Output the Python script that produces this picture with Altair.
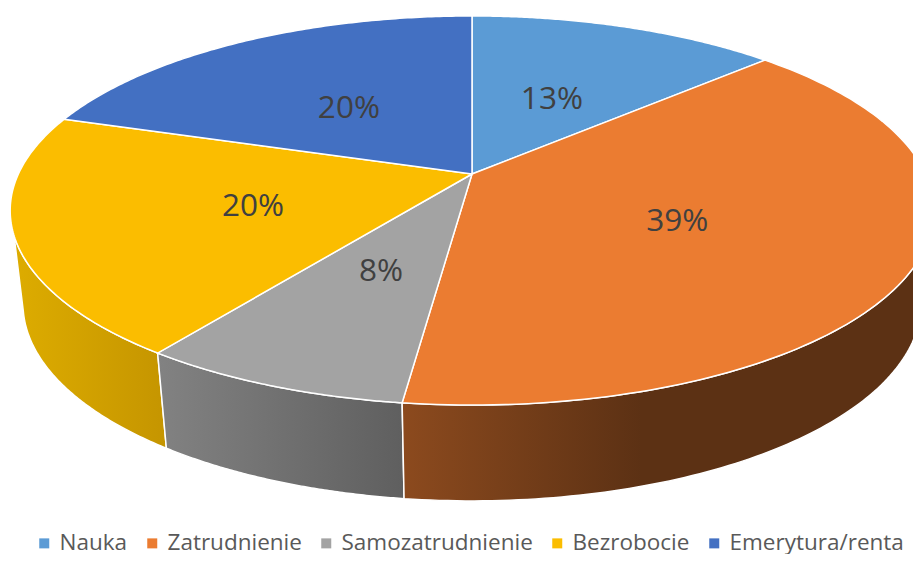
import numpy as np
import pandas as pd
import altair as alt

categories = ["Nauka", "Zatrudnienie", "Samozatrudnienie", "Bezrobocie", "Emerytura/renta"]
shares = [13, 39, 8, 20, 20]
colors = ["#5B9BD5", "#EB7C31", "#A3A3A3", "#FBBD00", "#4370C2"]
labels = ["13%", "39%", "8%", "20%", "20%"]

# perspective of the disc: tilt, centre and radii on the page (px)
K = 0.1877
TOP = dict(cx=472.0, cy=174.0, rx=453.6, ry=187.7)
LOW = dict(cx=472.0, cy=267.0, rx=441.0, ry=190.0)


def project(theta_deg, r=1.0, p=TOP):
    t = np.radians(theta_deg)
    X, Y = r * np.sin(t), r * np.cos(t)
    d = 1 + K * Y
    return p["cx"] + p["rx"] * X / d, p["cy"] - p["ry"] * Y / d


cum = np.concatenate([[0], np.cumsum(shares)]) * 3.6

# top faces
rows = []
for i, c in enumerate(categories):
    a = np.linspace(cum[i], cum[i + 1], 120)
    pts = [project(0.0, 0.0)] + [project(v) for v in a] + [project(0.0, 0.0)]
    for j, (x, y) in enumerate(pts):
        rows.append(dict(name=c, o=j, x=x, y=y))
top = pd.DataFrame(rows)


def wall(a0, a1, b1):
    """side wall between rim angles a0..a1 above and a0..b1 below"""
    up = [project(v) for v in np.linspace(a0, a1, 100)]
    lo = [project(v, 1.0, LOW) for v in np.linspace(b1, a0, 100)]
    pts = up + lo + up[:1]
    return pd.DataFrame([dict(o=j, x=x, y=y) for j, (x, y) in enumerate(pts)])


def grad(*stops):
    return alt.Gradient(
        gradient="linear", x1=0, x2=1, y1=0, y2=0,
        stops=[alt.GradientStop(offset=o, color=c) for o, c in stops],
    )


xs = alt.X("x:Q", scale=alt.Scale(domain=[8, 913], zero=False, nice=False), axis=None)
ys = alt.Y("y:Q", scale=alt.Scale(domain=[554, 8], zero=False, nice=False), axis=None)


def wall_layer(df, g):
    return alt.Chart(df).mark_line(
        fill=g, stroke="white", strokeWidth=1.5, clip=True, interpolate="linear"
    ).encode(x=xs, y=ys, order=alt.Order("o:Q"))


w_yellow = wall_layer(wall(cum[3], 252, 257), grad((0, "#DDAC00"), (1, "#C59500")))
w_gray = wall_layer(wall(cum[2], cum[3], cum[3]), grad((0, "#828282"), (1, "#5F5F5F")))
w_orange = wall_layer(wall(cum[2], 95, 95),
                      grad((0, "#8C4A1E"), (0.45, "#5C3114"), (1, "#5C3114")))

tops = alt.Chart(top).mark_line(stroke="white", strokeWidth=1.5, clip=True).encode(
    x=xs, y=ys, order=alt.Order("o:Q"),
    fill=alt.Fill(
        "name:N",
        scale=alt.Scale(domain=categories, range=colors),
        legend=alt.Legend(
            title=None, orient="none", legendX=25, legendY=524, columns=5,
            symbolType="square", symbolSize=100, symbolStrokeWidth=0,
            labelFont="Open Sans", labelFontSize=22.5, labelColor="#595959",
            labelLimit=0, columnPadding=13, labelOffset=4,
        ),
    ),
)

mid = (cum[:-1] + cum[1:]) / 2
lx, ly = project(mid, 0.49)
text_df = pd.DataFrame(dict(x=lx - 1.5, y=ly + 4, t=labels))
texts = alt.Chart(text_df).mark_text(
    font="Open Sans", fontSize=31.5, color="#404040", align="center", baseline="middle"
).encode(x=xs, y=ys, text="t:N")

chart = alt.layer(w_yellow, w_gray, w_orange, tops, texts).properties(
    width=905, height=546, padding=0,
    autosize=alt.AutoSizeParams(type="none"),
    background="white",
).configure_view(stroke=None)

chart.save("out.html", embed_options={"renderer": "svg", "actions": False})
